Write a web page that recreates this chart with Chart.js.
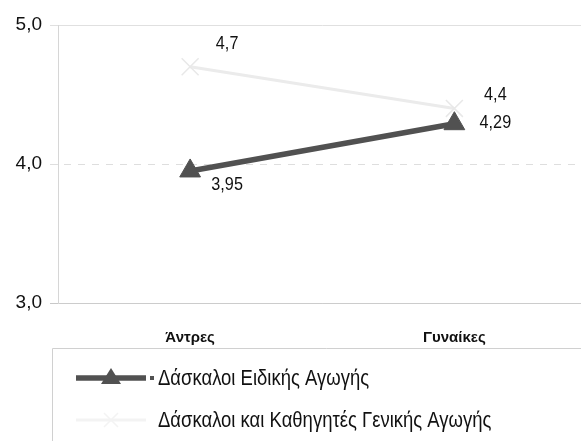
<!DOCTYPE html>
<html>
<head>
<meta charset="utf-8">
<script src="https://cdn.jsdelivr.net/npm/chart.js@4/dist/chart.umd.min.js"></script>
<style>
  html, body { margin: 0; padding: 0; background: #fff; overflow: hidden; }
  #wrap { width: 600px; height: 441px; }
</style>
</head>
<body>
<div id="wrap"><canvas id="chart"></canvas></div>
<script>
// Κατηγορίες και τιμές
const categories = ['Άντρες', 'Γυναίκες'];
const special = [3.95, 4.29];
const general = [4.7, 4.4];
const yTicks = [3, 4, 5];

const seriesNames = ['Δάσκαλοι Ειδικής Αγωγής', 'Δάσκαλοι και Καθηγητές Γενικής Αγωγής'];

const FONT = '"Liberation Sans", Arial, sans-serif';
const fmt = v => String(v).replace('.', ',');

// στενή γραφή: συμπίεση του κειμένου οριζόντια
function narrowText(ctx, text, x, y, sx, align) {
  ctx.save();
  ctx.translate(x, y);
  ctx.scale(sx, 1);
  ctx.textAlign = align;
  ctx.fillText(text, 0, 0);
  ctx.restore();
}

// ετικέτες τιμών δίπλα στα σημεία
const valueLabels = {
  id: 'valueLabels',
  afterDatasetsDraw(chart) {
    const ctx = chart.ctx;
    const offs = [
      [[37, 14], [41, -1]],
      [[37, -23], [41, -13]]
    ];
    ctx.save();
    ctx.font = '18px ' + FONT;
    ctx.fillStyle = '#111';
    ctx.textBaseline = 'middle';
    chart.data.datasets.forEach((ds, i) => {
      chart.getDatasetMeta(i).data.forEach((pt, j) => {
        const o = offs[i][j];
        narrowText(ctx, fmt(ds.data[j]), pt.x + o[0], pt.y + o[1], 0.9, 'center');
      });
    });
    ctx.restore();
  }
};

// υπόμνημα μέσα σε πλαίσιο κάτω από το γράφημα
const boxLegend = {
  id: 'boxLegend',
  afterDraw(chart) {
    const ctx = chart.ctx;
    ctx.save();
    ctx.strokeStyle = '#d0d0d0';
    ctx.lineWidth = 1;
    ctx.beginPath();
    ctx.moveTo(52.5, 441);
    ctx.lineTo(52.5, 348.5);
    ctx.lineTo(600, 348.5);
    ctx.stroke();

    const rows = [378, 420];
    chart.data.datasets.forEach((ds, i) => {
      const y = rows[i];
      if (i === 0) {
        ctx.strokeStyle = ds.borderColor;
        ctx.lineWidth = ds.borderWidth;
        ctx.beginPath();
        ctx.moveTo(76, y);
        ctx.lineTo(146, y);
        ctx.stroke();
        ctx.fillStyle = ds.pointBackgroundColor;
        ctx.beginPath();
        ctx.moveTo(111, y - 10);
        ctx.lineTo(121, y + 6);
        ctx.lineTo(101, y + 6);
        ctx.closePath();
        ctx.fill();
        ctx.fillRect(150, y - 2, 4, 4);
      } else {
        // η ανοιχτή σειρά σχεδόν δεν φαίνεται στο υπόμνημα
        ctx.strokeStyle = '#f3f3f3';
        ctx.lineWidth = 3;
        ctx.beginPath();
        ctx.moveTo(76, y);
        ctx.lineTo(146, y);
        ctx.stroke();
        ctx.lineWidth = 1.5;
        ctx.beginPath();
        ctx.moveTo(104, y - 7); ctx.lineTo(118, y + 7);
        ctx.moveTo(118, y - 7); ctx.lineTo(104, y + 7);
        ctx.stroke();
      }
      ctx.fillStyle = '#111';
      ctx.font = '22px ' + FONT;
      ctx.textBaseline = 'middle';
      narrowText(ctx, ds.label, 158, y + 1, 0.84, 'left');
    });
    ctx.restore();
  }
};

new Chart(document.getElementById('chart'), {
  type: 'line',
  data: {
    labels: categories,
    datasets: [
      {
        label: seriesNames[0],
        data: special,
        borderColor: '#515151',
        borderWidth: 5.5,
        pointStyle: 'triangle',
        pointRadius: 12,
        pointBackgroundColor: '#515151',
        pointBorderColor: '#515151',
        pointBorderWidth: 1,
        tension: 0
      },
      {
        label: seriesNames[1],
        data: general,
        borderColor: '#ebebeb',
        borderWidth: 3,
        pointStyle: 'crossRot',
        pointRadius: 12,
        pointBorderColor: '#e8e8e8',
        pointBorderWidth: 1.5,
        tension: 0
      }
    ]
  },
  options: {
    responsive: true,
    maintainAspectRatio: false,
    animation: false,
    layout: { padding: { top: 25, right: 9, left: 0, bottom: 0 } },
    plugins: {
      legend: { display: false },
      tooltip: { enabled: false }
    },
    scales: {
      x: {
        offset: true,
        grid: { display: false },
        border: { color: '#cccccc' },
        afterFit(scale) { scale.height = 138; },
        ticks: {
          padding: 18,
          color: '#111',
          font: { family: FONT, size: 15, weight: 'bold' }
        }
      },
      y: {
        min: 3,
        max: 5,
        afterFit(scale) { scale.width = 58; },
        afterBuildTicks(scale) { scale.ticks = yTicks.map(v => ({ value: v })); },
        border: { color: '#d6d6d6' },
        grid: {
          tickLength: 8,
          color: ctx => ctx.tick && ctx.tick.value === 3 ? '#c8c8c8' : '#e0e0e0'
        },
        ticks: {
          padding: 8,
          color: '#111',
          font: { family: FONT, size: 19 },
          callback: v => v.toFixed(1).replace('.', ',')
        }
      }
    }
  },
  plugins: [valueLabels, boxLegend, {
    id: 'dashedFour',
    beforeDatasetsDraw(chart) {
      // η γραμμή του 4,0 είναι διακεκομμένη
      const y = chart.scales.y.getPixelForValue(4);
      const ctx = chart.ctx;
      ctx.save();
      ctx.fillStyle = '#fff';
      ctx.fillRect(chart.chartArea.left + 1, y - 1.5, chart.chartArea.width, 3);
      ctx.strokeStyle = '#dedede';
      ctx.setLineDash([7, 7]);
      ctx.lineWidth = 1;
      ctx.beginPath();
      ctx.moveTo(chart.chartArea.left - 8, Math.round(y) + 0.5);
      ctx.lineTo(chart.chartArea.right, Math.round(y) + 0.5);
      ctx.stroke();
      ctx.restore();
    }
  }]
});
</script>
</body>
</html>
